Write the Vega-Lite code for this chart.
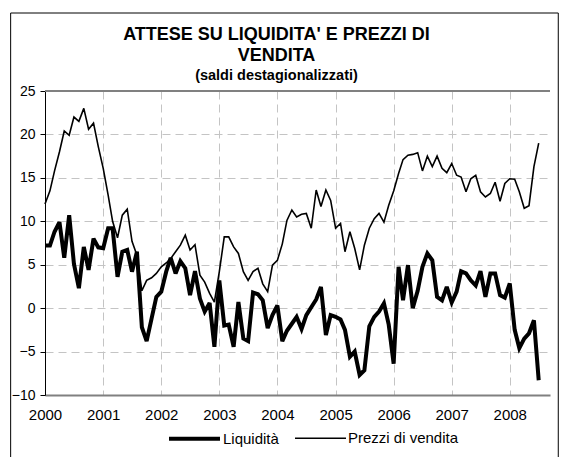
{
  "$schema": "https://vega.github.io/schema/vega-lite/v6.json",
  "width": 505,
  "height": 304,
  "autosize": "none",
  "padding": {"left": 45, "top": 91, "right": 23, "bottom": 62},
  "background": "white",
  "config": {
    "font": "Liberation Sans",
    "view": {"stroke": null}
  },
  "title": {
    "text": ["ATTESE SU LIQUIDITA' E PREZZI DI", "VENDITA"],
    "subtitle": "(saldi destagionalizzati)",
    "font": "Liberation Sans",
    "fontSize": 18,
    "fontWeight": "bold",
    "color": "black",
    "lineHeight": 21,
    "subtitleFont": "Liberation Sans",
    "subtitleFontSize": 14.5,
    "subtitleFontWeight": "bold",
    "subtitleColor": "black",
    "subtitlePadding": 4,
    "anchor": "middle",
    "offset": 1,
    "dx": -21,
    "dy": 71
  },
  "data": {
    "values": [
      {"d": "2000-01", "Liquidità": 7.2, "Prezzi di vendita": 12.0},
      {"d": "2000-02", "Liquidità": 7.2, "Prezzi di vendita": 13.5},
      {"d": "2000-03", "Liquidità": 8.8, "Prezzi di vendita": 15.8},
      {"d": "2000-04", "Liquidità": 9.9, "Prezzi di vendita": 18.0},
      {"d": "2000-05", "Liquidità": 5.8, "Prezzi di vendita": 20.4},
      {"d": "2000-06", "Liquidità": 10.7, "Prezzi di vendita": 19.9},
      {"d": "2000-07", "Liquidità": 5.1, "Prezzi di vendita": 22.0},
      {"d": "2000-08", "Liquidità": 2.3, "Prezzi di vendita": 21.5},
      {"d": "2000-09", "Liquidità": 7.05, "Prezzi di vendita": 23.0},
      {"d": "2000-10", "Liquidità": 4.4, "Prezzi di vendita": 20.6},
      {"d": "2000-11", "Liquidità": 8.0, "Prezzi di vendita": 21.3},
      {"d": "2000-12", "Liquidità": 7.0, "Prezzi di vendita": 18.6},
      {"d": "2001-01", "Liquidità": 6.9, "Prezzi di vendita": 16.1},
      {"d": "2001-02", "Liquidità": 9.2, "Prezzi di vendita": 13.0},
      {"d": "2001-03", "Liquidità": 9.2, "Prezzi di vendita": 10.0},
      {"d": "2001-04", "Liquidità": 3.6, "Prezzi di vendita": 8.1},
      {"d": "2001-05", "Liquidità": 6.5, "Prezzi di vendita": 10.7},
      {"d": "2001-06", "Liquidità": 6.7, "Prezzi di vendita": 11.4},
      {"d": "2001-07", "Liquidità": 4.2, "Prezzi di vendita": 7.7},
      {"d": "2001-08", "Liquidità": 6.5, "Prezzi di vendita": 6.1},
      {"d": "2001-09", "Liquidità": -2.2, "Prezzi di vendita": 2.0},
      {"d": "2001-10", "Liquidità": -3.8, "Prezzi di vendita": 3.2},
      {"d": "2001-11", "Liquidità": -1.2, "Prezzi di vendita": 3.5},
      {"d": "2001-12", "Liquidità": 1.3, "Prezzi di vendita": 4.0},
      {"d": "2002-01", "Liquidità": 1.9, "Prezzi di vendita": 4.75},
      {"d": "2002-02", "Liquidità": 4.2, "Prezzi di vendita": 5.2},
      {"d": "2002-03", "Liquidità": 5.8, "Prezzi di vendita": 5.7},
      {"d": "2002-04", "Liquidità": 4.0, "Prezzi di vendita": 6.5},
      {"d": "2002-05", "Liquidità": 5.4, "Prezzi di vendita": 7.25},
      {"d": "2002-06", "Liquidità": 4.6, "Prezzi di vendita": 8.4},
      {"d": "2002-07", "Liquidità": 1.5, "Prezzi di vendita": 6.7},
      {"d": "2002-08", "Liquidità": 4.25, "Prezzi di vendita": 7.3},
      {"d": "2002-09", "Liquidità": 1.1, "Prezzi di vendita": 3.8},
      {"d": "2002-10", "Liquidità": -0.4, "Prezzi di vendita": 3.0},
      {"d": "2002-11", "Liquidità": 0.6, "Prezzi di vendita": 1.7},
      {"d": "2002-12", "Liquidità": -4.45, "Prezzi di vendita": 0.7},
      {"d": "2003-01", "Liquidità": 3.2, "Prezzi di vendita": 4.2},
      {"d": "2003-02", "Liquidità": -2.0, "Prezzi di vendita": 8.2},
      {"d": "2003-03", "Liquidità": -1.9, "Prezzi di vendita": 8.2},
      {"d": "2003-04", "Liquidità": -4.45, "Prezzi di vendita": 7.05},
      {"d": "2003-05", "Liquidità": 0.7, "Prezzi di vendita": 6.3},
      {"d": "2003-06", "Liquidità": -3.5, "Prezzi di vendita": 4.2},
      {"d": "2003-07", "Liquidità": -3.8, "Prezzi di vendita": 3.2},
      {"d": "2003-08", "Liquidità": 1.8, "Prezzi di vendita": 4.2},
      {"d": "2003-09", "Liquidità": 1.6, "Prezzi di vendita": 4.6},
      {"d": "2003-10", "Liquidità": 0.9, "Prezzi di vendita": 2.8},
      {"d": "2003-11", "Liquidità": -2.3, "Prezzi di vendita": 1.9},
      {"d": "2003-12", "Liquidità": -0.8, "Prezzi di vendita": 4.95},
      {"d": "2004-01", "Liquidità": 0.3, "Prezzi di vendita": 5.5},
      {"d": "2004-02", "Liquidità": -3.8, "Prezzi di vendita": 7.4},
      {"d": "2004-03", "Liquidità": -2.6, "Prezzi di vendita": 10.1},
      {"d": "2004-04", "Liquidità": -1.8, "Prezzi di vendita": 11.3},
      {"d": "2004-05", "Liquidità": -1.0, "Prezzi di vendita": 10.5},
      {"d": "2004-06", "Liquidità": -2.4, "Prezzi di vendita": 10.8},
      {"d": "2004-07", "Liquidità": -0.8, "Prezzi di vendita": 10.9},
      {"d": "2004-08", "Liquidità": 0.1, "Prezzi di vendita": 9.2},
      {"d": "2004-09", "Liquidità": 1.0, "Prezzi di vendita": 13.6},
      {"d": "2004-10", "Liquidità": 2.45, "Prezzi di vendita": 11.7},
      {"d": "2004-11", "Liquidità": -3.1, "Prezzi di vendita": 13.6},
      {"d": "2004-12", "Liquidità": -0.8, "Prezzi di vendita": 12.4},
      {"d": "2005-01", "Liquidità": -1.0, "Prezzi di vendita": 9.2},
      {"d": "2005-02", "Liquidità": -1.3, "Prezzi di vendita": 9.75},
      {"d": "2005-03", "Liquidità": -2.5, "Prezzi di vendita": 6.5},
      {"d": "2005-04", "Liquidità": -5.6, "Prezzi di vendita": 8.8},
      {"d": "2005-05", "Liquidità": -5.0, "Prezzi di vendita": 6.9},
      {"d": "2005-06", "Liquidità": -7.7, "Prezzi di vendita": 4.4},
      {"d": "2005-07", "Liquidità": -7.15, "Prezzi di vendita": 7.25},
      {"d": "2005-08", "Liquidità": -2.1, "Prezzi di vendita": 9.2},
      {"d": "2005-09", "Liquidità": -1.0, "Prezzi di vendita": 10.3},
      {"d": "2005-10", "Liquidità": -0.4, "Prezzi di vendita": 10.9},
      {"d": "2005-11", "Liquidità": 0.55, "Prezzi di vendita": 9.9},
      {"d": "2005-12", "Liquidità": -1.9, "Prezzi di vendita": 11.85},
      {"d": "2006-01", "Liquidità": -6.4, "Prezzi di vendita": 13.5},
      {"d": "2006-02", "Liquidità": 4.75, "Prezzi di vendita": 15.5},
      {"d": "2006-03", "Liquidità": 0.9, "Prezzi di vendita": 17.1},
      {"d": "2006-04", "Liquidità": 4.95, "Prezzi di vendita": 17.6},
      {"d": "2006-05", "Liquidità": 0.0, "Prezzi di vendita": 17.7},
      {"d": "2006-06", "Liquidità": 2.0, "Prezzi di vendita": 17.9},
      {"d": "2006-07", "Liquidità": 4.75, "Prezzi di vendita": 15.8},
      {"d": "2006-08", "Liquidità": 6.3, "Prezzi di vendita": 17.5},
      {"d": "2006-09", "Liquidità": 5.5, "Prezzi di vendita": 16.3},
      {"d": "2006-10", "Liquidità": 1.3, "Prezzi di vendita": 17.5},
      {"d": "2006-11", "Liquidità": 0.9, "Prezzi di vendita": 16.1},
      {"d": "2006-12", "Liquidità": 2.45, "Prezzi di vendita": 15.6},
      {"d": "2007-01", "Liquidità": 0.65, "Prezzi di vendita": 16.65},
      {"d": "2007-02", "Liquidità": 1.9, "Prezzi di vendita": 15.3},
      {"d": "2007-03", "Liquidità": 4.25, "Prezzi di vendita": 15.1},
      {"d": "2007-04", "Liquidità": 4.0, "Prezzi di vendita": 13.4},
      {"d": "2007-05", "Liquidità": 3.2, "Prezzi di vendita": 14.9},
      {"d": "2007-06", "Liquidità": 2.6, "Prezzi di vendita": 15.3},
      {"d": "2007-07", "Liquidità": 4.25, "Prezzi di vendita": 13.4},
      {"d": "2007-08", "Liquidità": 1.3, "Prezzi di vendita": 12.8},
      {"d": "2007-09", "Liquidità": 4.0, "Prezzi di vendita": 13.2},
      {"d": "2007-10", "Liquidità": 4.0, "Prezzi di vendita": 14.5},
      {"d": "2007-11", "Liquidità": 1.5, "Prezzi di vendita": 12.3},
      {"d": "2007-12", "Liquidità": 1.2, "Prezzi di vendita": 14.35},
      {"d": "2008-01", "Liquidità": 2.85, "Prezzi di vendita": 14.9},
      {"d": "2008-02", "Liquidità": -2.5, "Prezzi di vendita": 14.85},
      {"d": "2008-03", "Liquidità": -4.6, "Prezzi di vendita": 13.4},
      {"d": "2008-04", "Liquidità": -3.5, "Prezzi di vendita": 11.5},
      {"d": "2008-05", "Liquidità": -2.9, "Prezzi di vendita": 11.8},
      {"d": "2008-06", "Liquidità": -1.4, "Prezzi di vendita": 16.3},
      {"d": "2008-07", "Liquidità": -8.3, "Prezzi di vendita": 19.0}
    ]
  },
  "layer": [
    {
      "transform": [{"fold": ["Liquidità", "Prezzi di vendita"], "as": ["serie", "valore"]}],
      "mark": {"type": "line", "color": "black", "strokeJoin": "miter", "strokeMiterLimit": 3},
      "encoding": {
        "x": {
          "field": "d",
          "type": "temporal",
          "scale": {
            "type": "utc",
            "domain": [
              {"year": 2000, "month": 1, "date": 1, "utc": true},
              {"year": 2008, "month": 9, "date": 10, "utc": true}
            ]
          },
          "axis": {
            "title": null,
            "values": [
              {"year": 2000, "month": 1, "date": 1, "utc": true},
              {"year": 2001, "month": 1, "date": 1, "utc": true},
              {"year": 2002, "month": 1, "date": 1, "utc": true},
              {"year": 2003, "month": 1, "date": 1, "utc": true},
              {"year": 2004, "month": 1, "date": 1, "utc": true},
              {"year": 2005, "month": 1, "date": 1, "utc": true},
              {"year": 2006, "month": 1, "date": 1, "utc": true},
              {"year": 2007, "month": 1, "date": 1, "utc": true},
              {"year": 2008, "month": 1, "date": 1, "utc": true}
            ],
            "format": "%Y",
            "ticks": false,
            "labelPadding": 12,
            "labelFontSize": 15,
            "labelColor": "black",
            "labelFont": "Liberation Sans",
            "labelFlush": false,
            "labelOverlap": false,
            "domainColor": "#808080",
            "domainWidth": 2,
            "grid": true,
            "gridColor": "#c4c4c4",
            "gridDash": [8, 5],
            "gridWidth": 1
          }
        },
        "y": {
          "field": "valore",
          "type": "quantitative",
          "scale": {"domain": [-10, 25], "nice": false, "zero": false},
          "axis": {
            "title": null,
            "values": [-10, -5, 0, 5, 10, 15, 20, 25],
            "labelFontSize": 14,
            "labelColor": "black",
            "labelFont": "Liberation Sans",
            "labelPadding": 5,
            "tickSize": 5,
            "tickColor": "black",
            "domainColor": "black",
            "domainWidth": 1,
            "grid": true,
            "gridColor": "#c4c4c4",
            "gridDash": [8, 5],
            "gridWidth": 1
          }
        },
        "detail": {"field": "serie", "type": "nominal"},
        "strokeWidth": {
          "field": "serie",
          "type": "ordinal",
          "scale": {"type": "ordinal", "domain": ["Liquidità", "Prezzi di vendita"], "range": [4, 1.6]},
          "legend": {
            "orient": "none",
            "legendX": 122,
            "legendY": 320,
            "direction": "horizontal",
            "title": null,
            "symbolType": "stroke",
            "symbolSize": 2600,
            "symbolStrokeColor": "black",
            "labelFontSize": 15,
            "labelFont": "Liberation Sans",
            "labelColor": "black",
            "labelOffset": 1,
            "columnPadding": 12
          }
        }
      }
    },
    {
      "data": {"values": [{}]},
      "mark": {"type": "rule", "color": "#808080", "strokeWidth": 2},
      "encoding": {"y": {"datum": 25}}
    },
    {
      "data": {"values": [{}]},
      "mark": {"type": "rect", "filled": false, "stroke": "black", "strokeWidth": 1, "clip": false},
      "encoding": {
        "x": {"datum": {"year": 1999, "month": 5, "date": 30, "utc": true}, "type": "temporal"},
        "x2": {"datum": {"year": 2008, "month": 11, "date": 1, "utc": true}},
        "y": {"datum": 33.98},
        "y2": {"datum": -18}
      }
    }
  ]
}
